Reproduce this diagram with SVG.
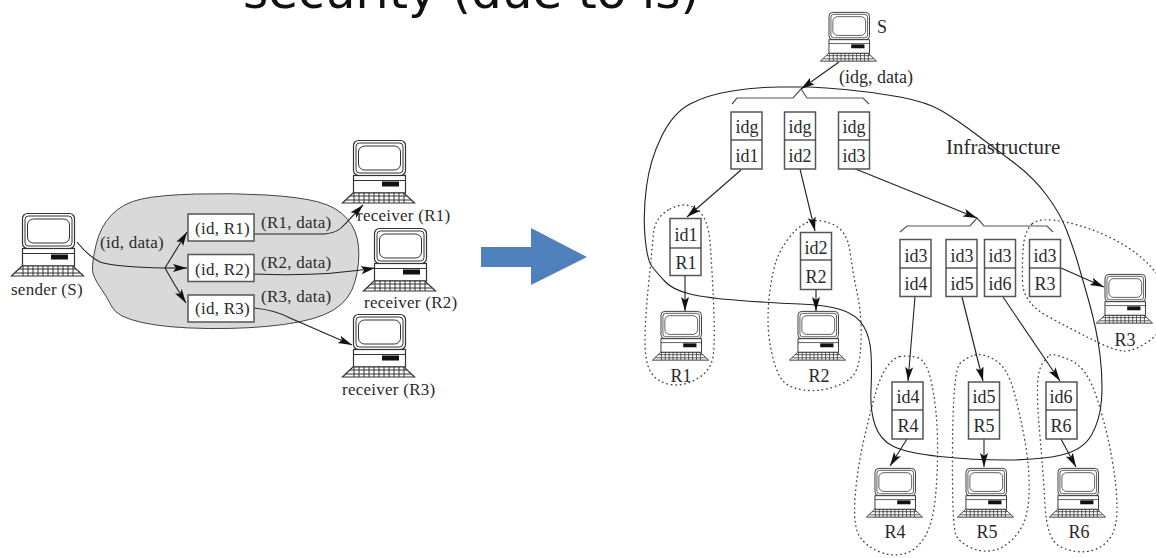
<svg xmlns="http://www.w3.org/2000/svg" width="1156" height="558" viewBox="0 0 1156 558">
<style>
text{font-family:"Liberation Serif","Times New Roman",serif;fill:#2a2a2a}
.l{font-size:17px;letter-spacing:.25px}
.r{font-size:18px}
.m{text-anchor:middle}
.title{font-family:"DejaVu Sans",sans-serif;font-size:48.500px;fill:#111}
.box{fill:#fff;stroke:#555;stroke-width:1.5}
.div{stroke:#333;stroke-width:1.2;fill:none}
.c{fill:none;stroke:#222;stroke-width:1.1}
.a{marker-end:url(#ah)}
.br{fill:none;stroke:#555;stroke-width:1.2}
.dot{fill:none;stroke:#444;stroke-width:1.4;stroke-linecap:round;stroke-dasharray:0.5 4}
.pc{fill:#fff;stroke:#333;stroke-width:1.2}
.pcl{fill:none;stroke:#333;stroke-width:1}
</style>
<defs>
<marker id="ah" markerUnits="userSpaceOnUse" markerWidth="15" markerHeight="9" refX="14" refY="4" orient="auto">
<path d="M0 0L14 4L0 8L3 4Z" fill="#111"/>
</marker>
<g id="computer">
<rect class="pc" x="11.5" y="0.5" width="52" height="35" rx="5"/>
<rect class="pcl" x="14" y="3" width="47" height="30" rx="3.5"/>
<rect class="pcl" x="16.5" y="6" width="42" height="24" rx="6"/>
<rect class="pc" x="11.5" y="35.5" width="52" height="17.5"/>
<path class="pcl" d="M11.5 40.5H63.5"/>
<rect x="40" y="41.5" width="17" height="5" fill="#111"/>
<path class="pc" d="M11 53L0.5 63H72.5L62 53Z"/>
<path class="pcl" stroke-width="0.8" d="M8 56H65M4 60H69M12 53V63M17 53V63M22 53V63M27 53V63M32 53V63M37 53V63M42 53V63M47 53V63M52 53V63M57 53V63M62 53V63"/>
</g>
</defs>

<text class="title" x="243" y="8">security (due to is)</text>

<g id="left-network">
<path d="M92.5 270Q92 263 96 245Q100 227 111.5 215Q123 203 141.5 199Q160 195 196.5 194Q233 193 266.5 195Q300 197 318.5 202Q337 207 347 218.5Q357 230 358.5 246.5Q360 263 355 281.5Q350 300 333.5 310Q317 320 283.5 324.5Q250 329 208.5 328.5Q167 328 142 322.5Q117 317 112 307Q107 297 100 287Q93 277 92.5 270Z" fill="#d9d9d9" stroke="#444" stroke-width="1"/>
</g>

<g id="right-regions">
<path class="c" d="M809 87Q801 87 779 87Q757 87 732 91Q707 95 690 104Q673 113 661.5 136.5Q650 160 646.5 186.5Q643 213 645 236.5Q647 260 652 266.5Q657 273 665 281.5Q673 290 690 294Q707 298 740 300.5Q773 303 800 304Q827 305 842 310Q857 315 863.5 326Q870 337 871 353.5Q872 370 871 390Q870 410 875 425Q880 440 893.5 446.5Q907 453 940 456.5Q973 460 1006.5 460Q1040 460 1061.5 455Q1083 450 1091.5 435Q1100 420 1101.5 400Q1103 380 1100 355Q1097 330 1088.5 300Q1080 270 1076.5 258.5Q1073 247 1066.5 230Q1060 213 1046.5 195Q1033 177 1013 162Q993 147 975 133.5Q957 120 942 111Q927 102 900 97Q873 92 845 89.5Q817 87 809 87Z"/>
<path class="dot" d="M670 209Q685 201 696.5 209Q708 217 710 242Q712 267 713.5 302Q715 337 713.5 353.5Q712 370 697.5 378.5Q683 387 670 384.5Q657 382 651 372.5Q645 363 645 341.5Q645 320 648.5 285Q652 250 653.5 233.5Q655 217 670 209Z"/>
<path class="dot" d="M807 222.5Q817 218 832 224Q847 230 850 251.5Q853 273 857.5 295Q862 317 861 342Q860 367 853.5 375Q847 383 832 387.5Q817 392 803.5 390Q790 388 783.5 381.5Q777 375 772.5 356Q768 337 768 320Q768 303 770.5 286.5Q773 270 776.5 260Q780 250 788.5 238.5Q797 227 807 222.5Z"/>
<path class="dot" d="M1032.5 223.5Q1040 217 1065 222Q1090 227 1115 240Q1140 253 1155 271.5Q1170 290 1167.5 310Q1165 330 1149 341Q1133 352 1123 351Q1113 350 1093 340Q1073 330 1048 316.5Q1023 303 1022.5 281.5Q1022 260 1023.5 245Q1025 230 1032.5 223.5Z"/>
<path class="dot" d="M900 356.5Q907 355 917 357.5Q927 360 932 385Q937 410 937.5 440Q938 470 935.5 496.5Q933 523 925 536.5Q917 550 905 553.5Q893 557 880 552Q867 547 860 537Q853 527 855 498.5Q857 470 863.5 441.5Q870 413 875 395Q880 377 886.5 367.5Q893 358 900 356.5Z"/>
<path class="dot" d="M975 355Q983 353 995 360Q1007 367 1013.5 390Q1020 413 1025 441.5Q1030 470 1029 495Q1028 520 1017.5 533.5Q1007 547 995 550Q983 553 971.5 548Q960 543 956 535Q952 527 952.5 448.5Q953 370 960 363.5Q967 357 975 355Z"/>
<path class="dot" d="M1050 355Q1053 353 1070 360Q1087 367 1097 398.5Q1107 430 1112 458.5Q1117 487 1117 508.5Q1117 530 1108.5 540Q1100 550 1086.5 551.5Q1073 553 1060 546.5Q1047 540 1045 505Q1043 470 1040 436.5Q1037 403 1037.5 386.5Q1038 370 1042.5 363.5Q1047 357 1050 355Z"/>
</g>

<g id="connectors">
<path class="c" d="M77 242Q88 256 100 262Q115 267 165 268"/>
<path class="c a" d="M165 268Q176 250 187 232"/>
<path class="c a" d="M165 268H187"/>
<path class="c a" d="M165 268Q175 286 186 303"/>
<path class="c a" d="M254 234H325Q338 233 345 224L363 205"/>
<path class="c a" d="M254 274Q320 277 375 268"/>
<path class="c a" d="M254 308Q275 310 290 318L352 345"/>
<path class="c a" d="M839 62L801 89"/>
<path class="br" d="M732 104L737 98H793L801 89L807 98H863L869 104"/>
<path class="br" d="M900 232L907 226H970L977 218L984 226H1047L1053 232"/>
<path class="c a" d="M741 170L687 217"/>
<path class="c a" d="M800 169L815 231"/>
<path class="c a" d="M853 168L977 218"/>
<path class="c a" d="M685 275V311"/>
<path class="c a" d="M816 290V311"/>
<path class="c a" d="M915 297L908 381"/>
<path class="c a" d="M962 297L983 381"/>
<path class="c a" d="M1003 297L1060 381"/>
<path class="c a" d="M1061 268L1104 287"/>
<path class="c a" d="M907 439L890 466"/>
<path class="c a" d="M984 439V467"/>
<path class="c a" d="M1061 439L1076 467"/>
</g>

<g id="sender"><use href="#computer" x="11" y="213"/><text class="l" x="11" y="295">sender (S)</text></g>
<g id="receiver-r1"><use href="#computer" x="342" y="140"/><text class="l" x="357" y="221">receiver (R1)</text></g>
<g id="receiver-r2"><use href="#computer" x="363" y="228"/><text class="l" x="364" y="308">receiver (R2)</text></g>
<g id="receiver-r3"><use href="#computer" x="342" y="314"/><text class="l" x="342" y="395">receiver (R3)</text></g>

<g id="id-r1"><rect class="box" x="188" y="214" width="66" height="27"/><text class="l" x="195" y="234">(id, R1)</text></g>
<g id="id-r2"><rect class="box" x="188" y="254.500" width="66" height="27"/><text class="l" x="195" y="275">(id, R2)</text></g>
<g id="id-r3"><rect class="box" x="188" y="295" width="66" height="27"/><text class="l" x="195" y="314">(id, R3)</text></g>

<g id="left-labels">
<text class="l" x="100" y="248">(id, data)</text>
<text class="l" x="261" y="228">(R1, data)</text>
<text class="l" x="261" y="268">(R2, data)</text>
<text class="l" x="261" y="302">(R3, data)</text>
</g>

<g id="big-arrow"><path d="M481 247H531V228L587 257L531 285V267H481Z" fill="#4f81bd"/></g>

<g id="s"><use href="#computer" transform="translate(820 12) scale(.78)"/><text class="r" x="877" y="33">S</text></g>
<g id="r1"><use href="#computer" transform="translate(652 311) scale(.78)"/><text class="r m" x="681" y="382">R1</text></g>
<g id="r2"><use href="#computer" transform="translate(789 311) scale(.78)"/><text class="r m" x="819" y="382">R2</text></g>
<g id="r3"><use href="#computer" transform="translate(1096 274) scale(.78)"/><text class="r m" x="1125" y="346">R3</text></g>
<g id="r4"><use href="#computer" transform="translate(866 468) scale(.78)"/><text class="r m" x="895" y="538">R4</text></g>
<g id="r5"><use href="#computer" transform="translate(957 468) scale(.78)"/><text class="r m" x="987" y="538">R5</text></g>
<g id="r6"><use href="#computer" transform="translate(1049 468) scale(.78)"/><text class="r m" x="1079" y="538">R6</text></g>

<g id="box-idg-id1"><rect class="box" x="731" y="112" width="31" height="57"/><path class="div" d="M731 140H762"/><text class="r m" x="747" y="133">idg</text><text class="r m" x="747" y="162">id1</text></g>
<g id="box-idg-id2"><rect class="box" x="784.500" y="112" width="31" height="57"/><path class="div" d="M784.500 140H815.500"/><text class="r m" x="800" y="133">idg</text><text class="r m" x="800" y="162">id2</text></g>
<g id="box-idg-id3"><rect class="box" x="838.500" y="112" width="31" height="57"/><path class="div" d="M838.500 140H869.500"/><text class="r m" x="854" y="133">idg</text><text class="r m" x="854" y="162">id3</text></g>
<g id="box-id1-r1"><rect class="box" x="670" y="218.500" width="31" height="57"/><path class="div" d="M670 248H701"/><text class="r m" x="686" y="241">id1</text><text class="r m" x="686" y="269">R1</text></g>
<g id="box-id2-r2"><rect class="box" x="800.500" y="232.500" width="31" height="57"/><path class="div" d="M800.500 260H831.500"/><text class="r m" x="816" y="254">id2</text><text class="r m" x="816" y="283">R2</text></g>
<g id="box-id3-id4"><rect class="box" x="900" y="239.500" width="31" height="57"/><path class="div" d="M900 268H931"/><text class="r m" x="916" y="262">id3</text><text class="r m" x="916" y="290">id4</text></g>
<g id="box-id3-id5"><rect class="box" x="946" y="239.500" width="31" height="57"/><path class="div" d="M946 268H977"/><text class="r m" x="962" y="262">id3</text><text class="r m" x="962" y="290">id5</text></g>
<g id="box-id3-id6"><rect class="box" x="984.500" y="239.500" width="31" height="57"/><path class="div" d="M984.500 268H1015.500"/><text class="r m" x="1000" y="262">id3</text><text class="r m" x="1000" y="290">id6</text></g>
<g id="box-id3-r3"><rect class="box" x="1029.500" y="239.500" width="31" height="57"/><path class="div" d="M1029.500 268H1060.500"/><text class="r m" x="1045" y="262">id3</text><text class="r m" x="1045" y="290">R3</text></g>
<g id="box-id4-r4"><rect class="box" x="892" y="382" width="31" height="57"/><path class="div" d="M892 410H923"/><text class="r m" x="908" y="403">id4</text><text class="r m" x="908" y="432">R4</text></g>
<g id="box-id5-r5"><rect class="box" x="968.500" y="382" width="31" height="57"/><path class="div" d="M968.500 410H999.500"/><text class="r m" x="984" y="403">id5</text><text class="r m" x="984" y="432">R5</text></g>
<g id="box-id6-r6"><rect class="box" x="1046" y="382" width="31" height="57"/><path class="div" d="M1046 410H1077"/><text class="r m" x="1061" y="403">id6</text><text class="r m" x="1061" y="432">R6</text></g>

<g id="right-labels">
<text class="r" x="839" y="83">(idg, data)</text>
<text x="946" y="154" font-size="21">Infrastructure</text>
</g>
</svg>
